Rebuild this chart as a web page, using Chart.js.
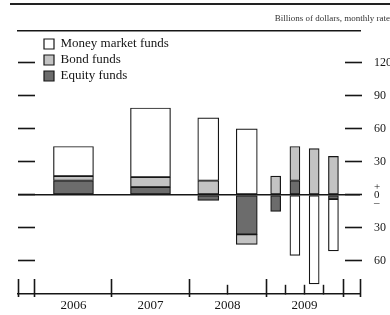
<!DOCTYPE html>
<html>
<head>
<meta charset="utf-8">
<script src="https://cdn.jsdelivr.net/npm/chart.js@4.4.1/dist/chart.umd.min.js"></script>
<style>
  html, body { margin: 0; padding: 0; background: #fff; }
  #wrap { position: relative; width: 390px; height: 315px; overflow: hidden; background: #fff; }
  #rule { position: absolute; left: 10px; top: 3px; width: 380px; height: 0; border-top: 2.5px solid #222; }
  canvas { position: absolute; left: 0; top: 0; }
</style>
</head>
<body>
<div id="wrap">
  <canvas id="chart" width="390" height="315"></canvas>
  <div id="rule"></div>
</div>
<script>
// ---- data ----
const periods      = ['2006', '2007', '2008 H1', '2008 H2', '2009 P1', '2009 P2', '2009 P3', '2009 P4'];
const periodStart  = [2006, 2007, 2008, 2008.5, 2009, 2009.25, 2009.5, 2009.75];
const periodEnd    = [2007, 2008, 2008.5, 2009, 2009.25, 2009.5, 2009.75, 2010];
const moneyMarket  = [27, 63, 57, 60, 0, -55, -81, -47];
const bondFunds    = [4, 9, 13, -9, 17, 31, 42, 35];
const equityFunds  = [13, 7, -5, -36, -15, 13, 0, -4];
const yearStarts   = [2006, 2007, 2008, 2009];
const yearLabels   = ['2006', '2007', '2008', '2009'];
const yTickValues  = [-60, -30, 0, 30, 60, 90, 120];
const yTickLabels  = ['60', '30', ['+', '0', '\u2013'], '30', '60', '90', '120'];

// ---- styling helpers ----
const FONT = "'Liberation Serif', 'DejaVu Serif', serif";
const INK = '#161616';
const xMin = 2006 - 0.22, xMax = 2010 + 0.22;
const yMin = -90, yMax = 149;
const midTicks = yearStarts.map(y => y + 0.5);
const subTicks = periodStart.filter(v => v % 1 !== 0);
const mainXTicks = Array.from(new Set([...midTicks, ...subTicks])).sort((a, b) => a - b);
const boundaryTicks = [xMin, ...yearStarts, yearStarts[yearStarts.length - 1] + 1, xMax];
const barWidthByLength = { '1': 40, '0.5': 21, '0.25': 10 };

const series = [
  { label: 'Equity funds', values: equityFunds, color: '#6c6c6c' },
  { label: 'Bond funds', values: bondFunds, color: '#c3c3c3' },
  { label: 'Money market funds', values: moneyMarket, color: '#ffffff' }
];

const datasets = [];
Object.keys(barWidthByLength).forEach(len => {
  const idx = periods.map((p, i) => i).filter(i => String(periodEnd[i] - periodStart[i]) === len);
  series.forEach(s => {
    datasets.push({
      label: s.label,
      data: idx.map(i => ({ x: (periodStart[i] + periodEnd[i]) / 2, y: s.values[i] })),
      backgroundColor: s.color,
      borderColor: INK,
      borderWidth: 1.2,
      borderSkipped: false,
      barThickness: barWidthByLength[len]
    });
  });
});

const markTicks = s => { s.ticks = yTickValues.map(v => ({ value: v })); };

const legendSpot = {
  id: 'legendSpot',
  afterLayout(chart) {
    const lg = chart.legend;
    if (!lg) return;
    const w = lg.width, h = lg.height;
    lg.left = 41; lg.top = 34.5;
    lg.right = lg.left + w; lg.bottom = lg.top + h;
  }
};

new Chart(document.getElementById('chart'), {
  type: 'bar',
  data: { datasets },
  plugins: [legendSpot],
  options: {
    responsive: false,
    animation: false,
    layout: { padding: { left: 18, right: 0, top: 0, bottom: 0 } },
    plugins: {
      title: {
        display: true, text: 'Billions of dollars, monthly rate', align: 'end', color: '#333',
        font: { family: FONT, size: 9, weight: 'normal' }, padding: { top: 13.6, bottom: 6.6 }
      },
      legend: {
        position: 'chartArea', align: 'start', reverse: true,
        labels: {
          filter: item => item.datasetIndex < 3,
          boxWidth: 10, boxHeight: 10, padding: 3, color: INK,
          font: { family: FONT, size: 13 }
        }
      },
      tooltip: { enabled: false }
    },
    scales: {
      x: {
        type: 'linear', position: 'bottom', min: xMin, max: xMax, stacked: true, offset: false,
        afterBuildTicks: s => { s.ticks = mainXTicks.map(v => ({ value: v })); },
        afterFit: s => { s.height = 21; },
        border: { display: true, color: INK, width: 1.5 },
        grid: {
          offset: false, drawOnChartArea: false, drawTicks: true, tickLength: -9, tickWidth: 1.5,
          tickColor: ctx => (ctx.tick && subTicks.includes(ctx.tick.value)) ? INK : 'rgba(0,0,0,0)'
        },
        ticks: {
          autoSkip: false, maxRotation: 0, minRotation: 0, padding: 13, color: INK,
          font: { family: FONT, size: 13 },
          callback: v => { const i = midTicks.indexOf(v); return i >= 0 ? yearLabels[i] : ''; }
        }
      },
      xBounds: {
        type: 'linear', axis: 'x', position: { y: -92.5 }, min: xMin, max: xMax, offset: false,
        afterBuildTicks: s => { s.ticks = boundaryTicks.map(v => ({ value: v })); },
        border: { display: false },
        grid: { offset: false, drawOnChartArea: false, drawTicks: true, tickLength: -18, tickWidth: 1.6, tickColor: INK },
        ticks: { display: false }
      },
      xTop: {
        type: 'linear', axis: 'x', position: 'top', min: xMin, max: xMax, offset: false,
        afterFit: s => { s.height = 0; },
        border: { display: true, color: INK, width: 1.5 },
        grid: { offset: false, display: false, drawTicks: false },
        ticks: { display: false }
      },
      y: {
        type: 'linear', position: 'right', min: yMin, max: yMax, stacked: true,
        afterBuildTicks: markTicks,
        afterFit: s => { s.width = 30; },
        border: { display: false },
        grid: {
          drawTicks: false, lineWidth: 1.5,
          color: ctx => (ctx.tick && ctx.tick.value === 0) ? INK : 'rgba(0,0,0,0)'
        },
        ticks: {
          padding: 14, color: INK,
          font: ctx => (ctx.tick && ctx.tick.value === 0)
            ? { family: FONT, size: 11, lineHeight: 0.72 }
            : { family: FONT, size: 12 },
          callback: (v, i) => yTickLabels[i]
        }
      },
      yLeftMarks: {
        type: 'linear', axis: 'y', position: { x: 2006 }, min: yMin, max: yMax,
        afterBuildTicks: markTicks,
        border: { display: false },
        grid: { drawOnChartArea: false, drawTicks: true, tickLength: 17, tickWidth: 1.6, tickColor: INK },
        ticks: { display: false }
      },
      yRightMarks: {
        type: 'linear', axis: 'y', position: { x: 2010 + 19 / 77 }, min: yMin, max: yMax,
        afterBuildTicks: markTicks,
        border: { display: false },
        grid: { drawOnChartArea: false, drawTicks: true, tickLength: 17, tickWidth: 1.6, tickColor: INK },
        ticks: { display: false }
      }
    }
  }
});
</script>
</body>
</html>
